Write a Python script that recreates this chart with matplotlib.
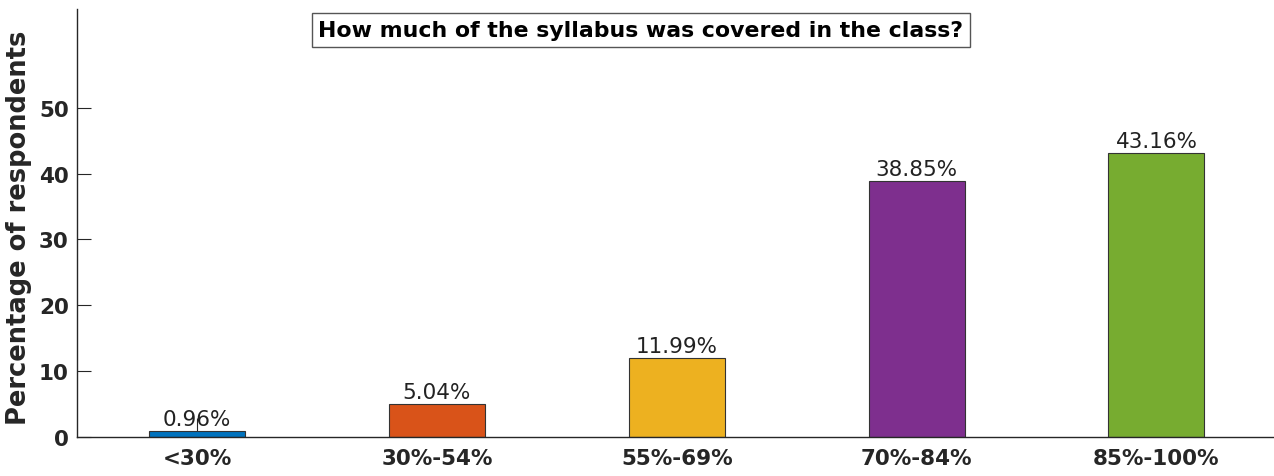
import matplotlib
matplotlib.use("Agg")
import matplotlib.pyplot as plt

categories = ["<30%", "30%-54%", "55%-69%", "70%-84%", "85%-100%"]
values = [0.96, 5.04, 11.99, 38.85, 43.16]
labels = ["0.96%", "5.04%", "11.99%", "38.85%", "43.16%"]
colors = ["#0072BD", "#D95319", "#EDB120", "#7E2F8E", "#77AC30"]
yticks = [0, 10, 20, 30, 40, 50]
title = "How much of the syllabus was covered in the class?"

plt.rcParams['font.family'] = ['DejaVu Sans']
W, H = 1274, 477
fig = plt.figure(figsize=(W / 100, H / 100), dpi=100)
ax = fig.add_axes([77 / W, (H - 438) / H, 1197 / W, 428 / H])

x = list(range(1, len(values) + 1))
ax.bar(x, values, width=0.4, color=colors, edgecolor="#333333", linewidth=0.8, zorder=2)
for xi, v, lab in zip(x, values, labels):
    ax.text(xi, v + 0.3, lab, ha="center", va="bottom", fontsize=15.5, color="#222222")

ax.set_xlim(0.5, 5.49)
ax.set_ylim(0, 65)
ax.set_xticks(x)
ax.set_xticklabels(categories, fontsize=15.5, fontweight="bold", color="#262626")
ax.set_yticks(yticks)
ax.set_yticklabels([str(t) for t in yticks], fontsize=15.5, fontweight="bold", color="#262626")
ax.tick_params(axis="x", direction="in", length=14, width=0.8, pad=8, color="#262626")
ax.tick_params(axis="y", direction="in", length=10, width=0.8, pad=6, color="#262626")
ax.spines["top"].set_visible(False)
ax.spines["right"].set_visible(False)
for s in ("left", "bottom"):
    ax.spines[s].set_linewidth(1.0)
    ax.spines[s].set_color("#262626")

ax.set_ylabel("Percentage of respondents", fontsize=18.5, fontweight="bold", color="#262626")
ax.yaxis.set_label_coords((32 - 77) / 1197, 0.49)

fig.text(641 / W, 1 - 31 / H, title, ha="center", va="center", fontsize=15.8, fontweight="bold",
         color="black",
         bbox=dict(boxstyle="square,pad=0.3", facecolor="white", edgecolor="#555555", linewidth=1.0))

fig.savefig("out.png", dpi=100)
